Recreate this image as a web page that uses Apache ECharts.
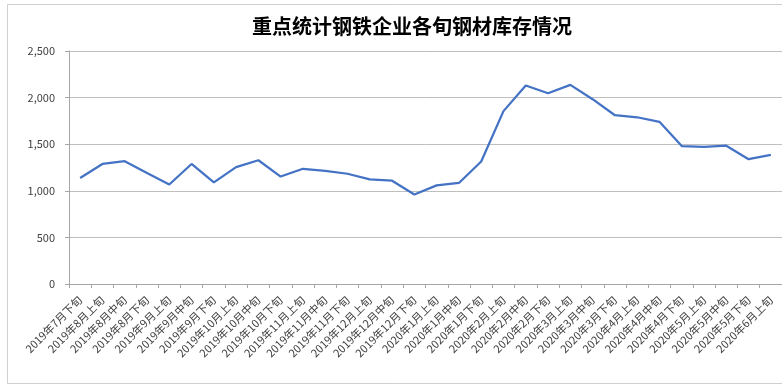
<!DOCTYPE html>
<html>
<head>
<meta charset="utf-8">
<script src="https://cdn.jsdelivr.net/npm/echarts@6/dist/echarts.min.js"></script>
<style>
html,body{margin:0;padding:0;background:#fff;}
#chart{width:782px;height:390px;}
</style>
</head>
<body>
<div id="chart"></div>
<script>
var titleText = '重点统计钢铁企业各旬钢材库存情况';
var categories = [
  '2019年7月下旬','2019年8月上旬','2019年8月中旬','2019年8月下旬',
  '2019年9月上旬','2019年9月中旬','2019年9月下旬',
  '2019年10月上旬','2019年10月中旬','2019年10月下旬',
  '2019年11月上旬','2019年11月中旬','2019年11月下旬',
  '2019年12月上旬','2019年12月中旬','2019年12月下旬',
  '2020年1月上旬','2020年1月中旬','2020年1月下旬',
  '2020年2月上旬','2020年2月中旬','2020年2月下旬',
  '2020年3月上旬','2020年3月中旬','2020年3月下旬',
  '2020年4月上旬','2020年4月中旬','2020年4月下旬',
  '2020年5月上旬','2020年5月中旬','2020年5月下旬',
  '2020年6月上旬'
];
var inventory = [
  1138, 1288, 1318, 1190,
  1068, 1288, 1090,
  1254, 1328, 1153,
  1236, 1215, 1183,
  1122, 1108, 960,
  1058, 1084, 1314,
  1855, 2130, 2047,
  2137, 1983, 1811,
  1789, 1740, 1480,
  1470, 1484, 1339,
  1385
];
var yTicks = [0, 500, 1000, 1500, 2000, 2500];

var chart = echarts.init(document.getElementById('chart'));
var fontFam = '"Noto Sans CJK SC", "Noto Sans", sans-serif';
chart.setOption({
  animation: false,
  backgroundColor: '#ffffff',
  title: {
    text: titleText,
    left: 407,
    top: 11,
    textAlign: 'center',
    textStyle: {fontSize: 20, fontWeight: 'bold', color: '#000000', fontFamily: fontFam}
  },
  graphic: [{
    type: 'rect',
    shape: {x: 7.5, y: 4.5, width: 800, height: 379},
    style: {fill: 'none', stroke: '#d0d0d0', lineWidth: 1},
    silent: true
  }],
  grid: {left: 69, right: -7, top: 51, bottom: 106, containLabel: false},
  xAxis: {
    type: 'category',
    data: categories,
    boundaryGap: true,
    axisLine: {show: true, lineStyle: {color: '#a6a6a6', width: 1}},
    axisTick: {show: true, alignWithLabel: false, length: 4, lineStyle: {color: '#a6a6a6'}},
    axisLabel: {
      interval: 0, rotate: 45, margin: 14,
      fontSize: 11, color: '#404040', fontFamily: fontFam
    },
    splitLine: {show: false}
  },
  yAxis: {
    type: 'value',
    min: yTicks[0],
    max: yTicks[yTicks.length - 1],
    interval: 500,
    axisLine: {show: true, lineStyle: {color: '#a6a6a6', width: 1}},
    axisTick: {show: true, length: 4, lineStyle: {color: '#a6a6a6'}},
    axisLabel: {
      margin: 14, fontSize: 11, color: '#404040', fontFamily: fontFam,
      formatter: function (v) { return v.toLocaleString('en-US'); }
    },
    splitLine: {show: true, lineStyle: {color: '#bfbfbf', width: 1}}
  },
  series: [{
    type: 'line',
    data: inventory,
    symbol: 'none',
    smooth: false,
    lineStyle: {color: '#4472c4', width: 2.25},
    itemStyle: {color: '#4472c4'}
  }]
});
</script>
</body>
</html>
